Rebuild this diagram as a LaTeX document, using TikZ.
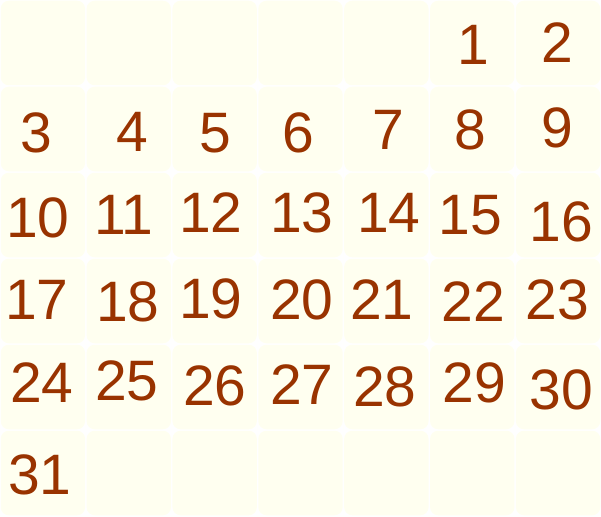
\documentclass[tikz,border=0pt]{standalone}
\usepackage{fontspec}
\setmainfont{Liberation Sans}
\definecolor{zahl}{HTML}{993300}
\definecolor{feld}{HTML}{FFFFF0}
\tikzset{
	tag/.style={text=zahl, inner sep=0pt, font=\fontsize{57}{60}\selectfont},
	feldbox/.style={fill=feld, rounded corners=8pt}
}
\begin{document}
\begin{tikzpicture}[x=1pt,y=-1pt]
	% Hintergrund
	\fill[white] (0,0) rectangle (601,516);
	% Felder 7 x 6
	\foreach \s in {0,...,6}
		\foreach \z in {0,...,5}
			\fill[feldbox] (\s*85.86+0.75, \z*86+0.75) rectangle (\s*85.86+85.1, \z*86+85.25);
	% Tage
	\foreach \n/\x/\y in {1/473/45, 2/557/43,
		3/36/133, 4/132/132, 5/215/133, 6/298/133, 7/388/130, 8/470/130, 9/557/128,
		10/38/218, 11/124/215, 12/211/213, 13/302/213, 14/389/213, 15/470/215, 16/561/222,
		17/37/300, 18/128/302, 19/211/299, 20/302/300, 21/382/300, 22/473/302, 23/557/300,
		24/42/383, 25/127/381, 26/215/386, 27/302/385, 28/385/387, 29/474/383, 30/561/390,
		31/40/475}
		\node[tag] (t\n) at (\x,\y) {\n};
\end{tikzpicture}
\end{document}
